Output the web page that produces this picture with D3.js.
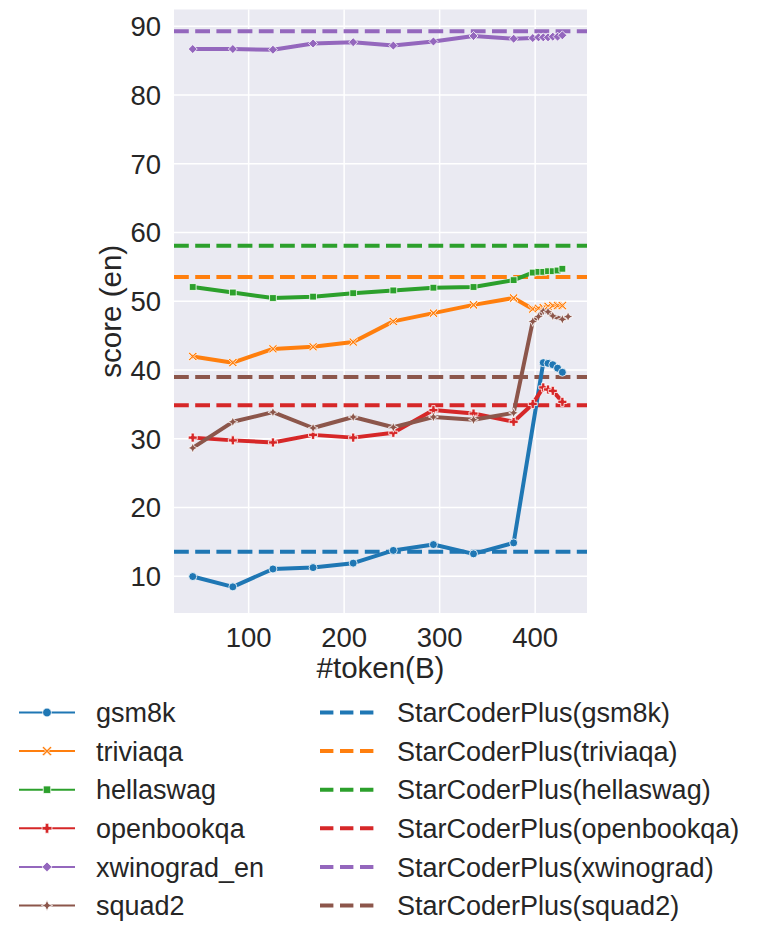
<!DOCTYPE html>
<html lang='en'>
<head>
  <meta charset="utf-8"/>
  <title>score (en) vs #token</title>
  <script src="https://d3js.org/d3.v7.min.js"></script>
  <style>
    body { margin: 0; background: #fff; }
    text { font-family: "Liberation Sans", Arial, sans-serif; fill: #262626; }
  </style>
</head>
<body>
  <div id='chart'></div>

  <script>
    // checkpoints (billions of tokens) - not every task was evaluated at every one
    var tokens = [42, 84, 126, 168, 210, 252, 294, 336, 378, 398, 404, 409, 414, 419, 424, 429, 435];

    var gsm8k       = [9.9, 8.4, 11.0, 11.2, 11.85, 13.7, 14.55, 13.2, 14.8, null, null, 41.0, 40.9, 40.7, 40.2, 39.6, null];
    var triviaqa    = [41.9, 41.0, 43.0, 43.3, 44.0, 47.0, 48.2, 49.4, 50.4, 48.8, 48.9, 49.0, 49.2, 49.3, 49.3, 49.3, null];
    var hellaswag   = [52.0, 51.2, 50.4, 50.6, 51.1, 51.5, 51.9, 52.0, 53.0, 54.1, 54.2, 54.2, 54.3, 54.3, 54.4, 54.65, null];
    var openbookqa  = [30.1, 29.7, 29.4, 30.5, 30.1, 30.8, 34.1, 33.6, 32.4, 35.0, null, 37.4, 37.1, 36.9, null, 35.3, null];
    var xwinograd   = [86.6, 86.6, 86.5, 87.4, 87.6, 87.1, 87.7, 88.5, 88.1, 88.2, 88.3, 88.3, 88.3, 88.4, 88.4, 88.6, null];
    var squad2      = [28.6, 32.4, 33.8, 31.5, 33.1, 31.6, 33.1, 32.7, 33.7, 47.0, 47.7, 48.5, 48.4, 47.8, null, 47.3, 47.7];

    var taskNames = ['gsm8k', 'triviaqa', 'hellaswag', 'openbookqa', 'xwinograd_en', 'squad2'];
    var baselineNames = ['StarCoderPlus(gsm8k)', 'StarCoderPlus(triviaqa)', 'StarCoderPlus(hellaswag)',
                         'StarCoderPlus(openbookqa)', 'StarCoderPlus(xwinograd)', 'StarCoderPlus(squad2)'];
    var starcoderPlus = [13.5, 53.45, 58.0, 34.8, 89.2, 38.9];

    var xTicks = [100, 200, 300, 400];
    var yTicks = [10, 20, 30, 40, 50, 60, 70, 80, 90];

    var colors = ['#1f77b4', '#ff7f0e', '#2ca02c', '#d62728', '#9467bd', '#8c564b'];
    var markers = ['circle', 'x', 'square', 'plus', 'diamond', 'star'];
    var seriesValues = [gsm8k, triviaqa, hellaswag, openbookqa, xwinograd, squad2];

    var width = 761, height = 943;
    var plot = { left: 174, top: 9.5, right: 587, bottom: 613 };

    var svg = d3.select('#chart').append('svg')
                .attr('width', width)
                .attr('height', height);

    var x = d3.scaleLinear().domain([22.4, 454.8]).range([plot.left, plot.right]);
    var y = d3.scaleLinear().domain([4.6, 92.35]).range([plot.bottom, plot.top]);

    svg.append('rect')
       .attr('x', plot.left).attr('y', plot.top)
       .attr('width', plot.right - plot.left)
       .attr('height', plot.bottom - plot.top)
       .attr('fill', '#eaeaf2');

    // grid
    var xAxis = svg.append('g')
        .attr('transform', 'translate(0,' + plot.bottom + ')')
        .call(d3.axisBottom(x).tickValues(xTicks).tickSize(-(plot.bottom - plot.top)).tickPadding(12));
    var yAxis = svg.append('g')
        .attr('transform', 'translate(' + plot.left + ',0)')
        .call(d3.axisLeft(y).tickValues(yTicks).tickSize(-(plot.right - plot.left)).tickPadding(13));

    [xAxis, yAxis].forEach(function(ax){
      ax.select('.domain').remove();
      ax.selectAll('line').attr('stroke', '#fff').attr('stroke-width', 1.5);
      ax.selectAll('text').attr('font-size', 27.5).attr('fill', '#262626')
        .style('font-family', '"Liberation Sans", Arial, sans-serif');
    });
    xAxis.selectAll('text').attr('dy', '0.8em');
    yAxis.selectAll('text').attr('dy', '0.36em');

    svg.append('text')
       .attr('x', (plot.left + plot.right) / 2)
       .attr('y', 678)
       .attr('text-anchor', 'middle')
       .attr('font-size', 29.5)
       .text('#token(B)');

    svg.append('text')
       .attr('transform', 'translate(121,' + (plot.top + plot.bottom) / 2 + ') rotate(-90)')
       .attr('text-anchor', 'middle')
       .attr('font-size', 29.5)
       .text('score (en)');

    var clip = svg.append('clipPath').attr('id', 'plotclip')
       .append('rect')
       .attr('x', plot.left).attr('y', plot.top)
       .attr('width', plot.right - plot.left)
       .attr('height', plot.bottom - plot.top);

    var canvas = svg.append('g').attr('clip-path', 'url(#plotclip)');

    // StarCoderPlus reference lines
    canvas.selectAll('line.base')
      .data(starcoderPlus)
      .enter()
      .append('line')
      .attr('class', 'base')
      .attr('x1', plot.left).attr('x2', plot.right)
      .attr('y1', function(d){ return y(d); })
      .attr('y2', function(d){ return y(d); })
      .attr('stroke', function(d, i){ return colors[i]; })
      .attr('stroke-width', 4)
      .attr('stroke-dasharray', '14.8 6.4');

    function markerPath(kind, s) {
      // s = half size of the marker
      var p;
      if (kind == 'circle') {
        return d3.symbol().type(d3.symbolCircle).size(Math.PI * s * s)();
      }
      if (kind == 'square') {
        var q = s * 0.85;
        return 'M' + (-q) + ',' + (-q) + 'H' + q + 'V' + q + 'H' + (-q) + 'Z';
      }
      if (kind == 'diamond') {
        return 'M0,' + (-s) + 'L' + s + ',0L0,' + s + 'L' + (-s) + ',0Z';
      }
      if (kind == 'plus') {
        var t = s * 0.36;
        p = [[-t,-s],[t,-s],[t,-t],[s,-t],[s,t],[t,t],[t,s],[-t,s],[-t,t],[-s,t],[-s,-t],[-t,-t]];
        return 'M' + p.map(function(a){ return a.join(','); }).join('L') + 'Z';
      }
      if (kind == 'x') {
        var w = s * 0.3;
        p = [[0,-w],[s-w,-s],[s,-s+w],[w,0],[s,s-w],[s-w,s],[0,w],[-s+w,s],[-s,s-w],[-w,0],[-s,-s+w],[-s+w,-s]];
        return 'M' + p.map(function(a){ return a.join(','); }).join('L') + 'Z';
      }
      if (kind == 'star') {
        var k = s * 0.3;
        p = [[0,-s],[k,-k],[s,0],[k,k],[0,s],[-k,k],[-s,0],[-k,-k]];
        return 'M' + p.map(function(a){ return a.join(','); }).join('L') + 'Z';
      }
    }

    var markerSize = { circle: 4, x: 4.4, square: 4, plus: 4.5, diamond: 4.5, star: 5 };

    var line = d3.line()
                 .x(function(d){ return x(d.t); })
                 .y(function(d){ return y(d.v); });

    seriesValues.forEach(function(values, i){
      var pts = [];
      values.forEach(function(v, j){
        if (v !== null) pts.push({ t: tokens[j], v: v });
      });

      canvas.append('path')
        .datum(pts)
        .attr('d', line)
        .attr('fill', 'none')
        .attr('stroke', colors[i])
        .attr('stroke-width', 4)
        .attr('stroke-linejoin', 'round')
        .attr('stroke-linecap', 'round');

      canvas.selectAll('path.m' + i)
        .data(pts)
        .enter()
        .append('path')
        .attr('class', 'm' + i)
        .attr('transform', function(d){ return 'translate(' + x(d.t) + ',' + y(d.v) + ')'; })
        .attr('d', markerPath(markers[i], markerSize[markers[i]]))
        .attr('fill', colors[i])
        .attr('stroke', '#fff')
        .attr('stroke-width', 0.8);
    });

    // legend
    var legend = svg.append('g');
    var rowY = d3.scaleLinear().domain([0, 5]).range([712.5, 905.5]);

    taskNames.forEach(function(name, i){
      var g = legend.append('g').attr('transform', 'translate(0,' + rowY(i) + ')');
      g.append('line')
       .attr('x1', 19).attr('x2', 75)
       .attr('stroke', colors[i]).attr('stroke-width', 2);
      g.append('path')
       .attr('transform', 'translate(47,0)')
       .attr('d', markerPath(markers[i], markerSize[markers[i]] * 1.1))
       .attr('fill', colors[i])
       .attr('stroke', '#fff')
       .attr('stroke-width', 0.8);
      g.append('text')
       .attr('x', 96).attr('dy', '0.36em')
       .attr('font-size', 27)
       .text(name);
    });

    baselineNames.forEach(function(name, i){
      var g = legend.append('g').attr('transform', 'translate(0,' + rowY(i) + ')');
      g.append('line')
       .attr('x1', 320).attr('x2', 374)
       .attr('stroke', colors[i]).attr('stroke-width', 4)
       .attr('stroke-dasharray', '13.4 6.6');
      g.append('text')
       .attr('x', 397).attr('dy', '0.36em')
       .attr('font-size', 27)
       .text(name);
    });
  </script>
</body>
</html>
